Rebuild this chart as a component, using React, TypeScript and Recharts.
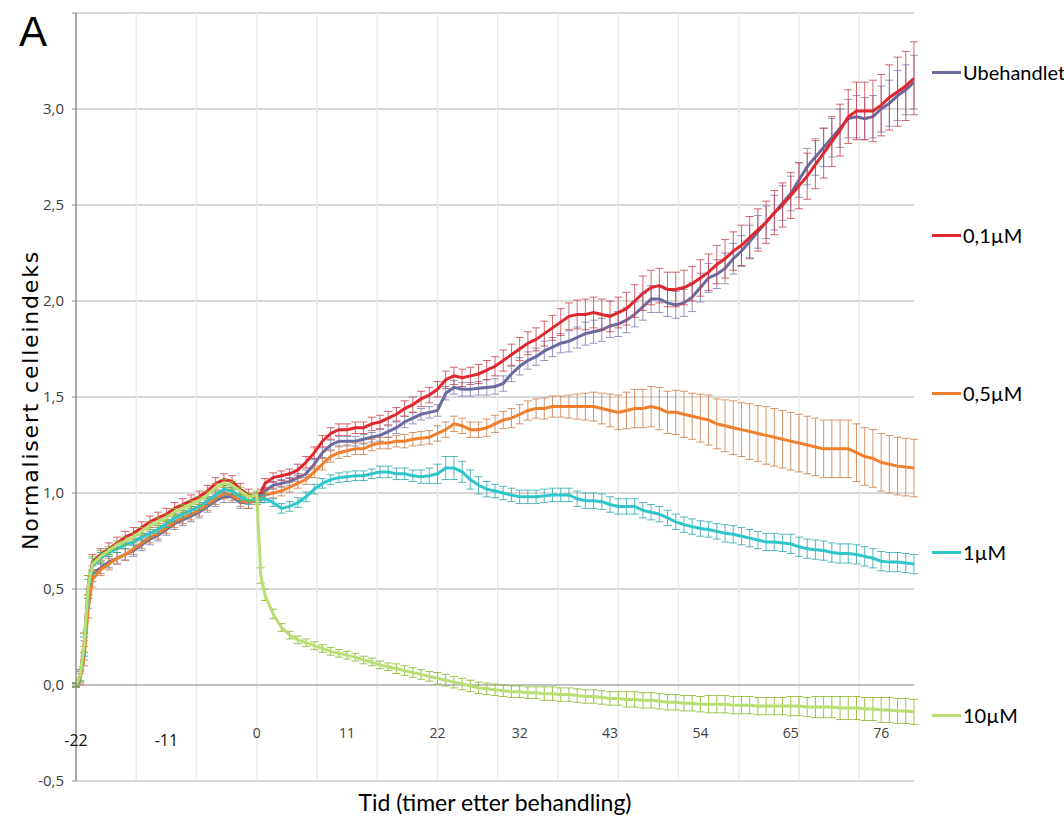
import React from 'react';
import { LineChart, Line, XAxis, YAxis, CartesianGrid, ReferenceLine, ErrorBar } from 'recharts';

// timer etter behandling
const hours = [
  -22, -21.5, -21, -20.5, -20, -19, -18, -17, -16, -15,
  -14, -13, -12, -11, -10, -9, -8, -7, -6, -5,
  -4, -3, -2, -1, 0, 0.5, 1, 2, 3, 4,
  5, 6, 7, 8, 9, 10, 11, 12, 13, 14,
  15, 16, 17, 18, 19, 20, 21, 22, 23, 24,
  25, 26, 27, 28, 29, 30, 31, 32, 33, 34,
  35, 36, 37, 38, 39, 40, 41, 42, 43, 44,
  45, 46, 47, 48, 49, 50, 51, 52, 53, 54,
  55, 56, 57, 58, 59, 60, 61, 62, 63, 64,
  65, 66, 67, 68, 69, 70, 71, 72, 73, 74,
  75, 76, 77, 78, 79, 80,
];

const ubehandlet = [
  0.00, 0.04, 0.18, 0.45, 0.58, 0.61, 0.64, 0.66, 0.68, 0.70,
  0.73, 0.76, 0.78, 0.81, 0.84, 0.86, 0.88, 0.90, 0.93, 0.96,
  0.98, 0.98, 0.95, 0.95, 0.97, 0.98, 1.01, 1.04, 1.05, 1.06,
  1.08, 1.10, 1.15, 1.21, 1.25, 1.27, 1.27, 1.27, 1.28, 1.29,
  1.30, 1.32, 1.34, 1.37, 1.39, 1.41, 1.42, 1.43, 1.52, 1.55,
  1.54, 1.54, 1.545, 1.55, 1.555, 1.57, 1.62, 1.66, 1.69, 1.71,
  1.74, 1.76, 1.78, 1.79, 1.81, 1.83, 1.84, 1.85, 1.87, 1.88,
  1.90, 1.93, 1.97, 2.01, 2.01, 1.99, 1.98, 1.99, 2.02, 2.07,
  2.12, 2.14, 2.17, 2.22, 2.26, 2.31, 2.36, 2.41, 2.46, 2.51,
  2.56, 2.63, 2.70, 2.75, 2.80, 2.85, 2.90, 2.95, 2.96, 2.95,
  2.96, 3.00, 3.03, 3.07, 3.10, 3.14,
];
const ubehandletErr = [
  0.01, 0.03, 0.05, 0.05, 0.04, 0.03, 0.03, 0.03, 0.03, 0.03,
  0.03, 0.03, 0.03, 0.03, 0.03, 0.03, 0.03, 0.03, 0.03, 0.03,
  0.03, 0.03, 0.03, 0.03, 0.02, 0.02, 0.02, 0.02, 0.02, 0.02,
  0.02, 0.02, 0.025, 0.025, 0.025, 0.025, 0.025, 0.025, 0.025, 0.025,
  0.03, 0.03, 0.03, 0.03, 0.03, 0.03, 0.03, 0.03, 0.035, 0.035,
  0.035, 0.035, 0.035, 0.04, 0.04, 0.04, 0.04, 0.045, 0.045, 0.045,
  0.05, 0.05, 0.05, 0.055, 0.055, 0.06, 0.06, 0.06, 0.06, 0.065,
  0.065, 0.065, 0.07, 0.07, 0.07, 0.07, 0.07, 0.07, 0.075, 0.075,
  0.075, 0.075, 0.08, 0.08, 0.08, 0.085, 0.085, 0.085, 0.09, 0.09,
  0.09, 0.09, 0.095, 0.095, 0.1, 0.1, 0.1, 0.1, 0.11, 0.11,
  0.11, 0.12, 0.12, 0.13, 0.13, 0.14,
];

const dose01 = [
  0.00, 0.05, 0.22, 0.52, 0.64, 0.68, 0.71, 0.74, 0.77, 0.79,
  0.82, 0.85, 0.87, 0.89, 0.92, 0.94, 0.96, 0.98, 1.01, 1.05,
  1.07, 1.06, 1.02, 0.99, 0.98, 1.00, 1.05, 1.08, 1.09, 1.10,
  1.12, 1.16, 1.21, 1.27, 1.31, 1.33, 1.33, 1.34, 1.34, 1.36,
  1.37, 1.39, 1.41, 1.44, 1.46, 1.49, 1.51, 1.54, 1.59, 1.61,
  1.60, 1.61, 1.62, 1.64, 1.66, 1.69, 1.72, 1.75, 1.78, 1.80,
  1.83, 1.86, 1.89, 1.92, 1.93, 1.93, 1.94, 1.93, 1.92, 1.94,
  1.96, 2.00, 2.04, 2.07, 2.08, 2.06, 2.06, 2.07, 2.09, 2.12,
  2.15, 2.19, 2.22, 2.26, 2.29, 2.33, 2.37, 2.41, 2.46, 2.50,
  2.55, 2.60, 2.65, 2.71, 2.77, 2.83, 2.89, 2.96, 2.99, 2.99,
  2.99, 3.02, 3.06, 3.09, 3.12, 3.16,
];
const dose01Err = [
  0.01, 0.03, 0.05, 0.05, 0.04, 0.03, 0.03, 0.03, 0.03, 0.03,
  0.03, 0.03, 0.03, 0.03, 0.03, 0.03, 0.03, 0.03, 0.03, 0.03,
  0.03, 0.03, 0.03, 0.03, 0.02, 0.02, 0.025, 0.025, 0.025, 0.025,
  0.03, 0.03, 0.03, 0.03, 0.03, 0.03, 0.03, 0.03, 0.03, 0.035,
  0.035, 0.035, 0.035, 0.04, 0.04, 0.04, 0.04, 0.04, 0.045, 0.045,
  0.045, 0.045, 0.05, 0.05, 0.05, 0.055, 0.055, 0.06, 0.06, 0.06,
  0.065, 0.065, 0.07, 0.07, 0.075, 0.08, 0.08, 0.08, 0.08, 0.08,
  0.085, 0.085, 0.09, 0.09, 0.09, 0.09, 0.09, 0.09, 0.09, 0.095,
  0.095, 0.1, 0.1, 0.1, 0.105, 0.11, 0.11, 0.11, 0.115, 0.115,
  0.12, 0.12, 0.12, 0.125, 0.13, 0.13, 0.135, 0.14, 0.15, 0.15,
  0.16, 0.16, 0.17, 0.18, 0.18, 0.19,
];

const dose05 = [
  0.00, 0.03, 0.15, 0.40, 0.55, 0.60, 0.63, 0.66, 0.68, 0.71,
  0.74, 0.77, 0.79, 0.82, 0.85, 0.87, 0.89, 0.91, 0.94, 0.97,
  1.00, 0.99, 0.96, 0.95, 0.96, 0.97, 0.99, 1.00, 1.01, 1.03,
  1.05, 1.07, 1.11, 1.15, 1.19, 1.21, 1.22, 1.23, 1.23, 1.25,
  1.26, 1.26, 1.27, 1.27, 1.28, 1.285, 1.29, 1.31, 1.33, 1.36,
  1.35, 1.33, 1.33, 1.34, 1.36, 1.38, 1.39, 1.41, 1.43, 1.44,
  1.44, 1.45, 1.45, 1.45, 1.45, 1.45, 1.45, 1.44, 1.43, 1.42,
  1.43, 1.44, 1.44, 1.45, 1.44, 1.42, 1.42, 1.41, 1.40, 1.39,
  1.38, 1.36, 1.35, 1.34, 1.33, 1.32, 1.31, 1.30, 1.29, 1.28,
  1.27, 1.26, 1.25, 1.24, 1.23, 1.23, 1.23, 1.23, 1.21, 1.19,
  1.18, 1.16, 1.15, 1.14, 1.135, 1.13,
];
const dose05Err = [
  0.01, 0.03, 0.05, 0.05, 0.04, 0.03, 0.03, 0.03, 0.03, 0.03,
  0.03, 0.03, 0.03, 0.03, 0.03, 0.03, 0.03, 0.03, 0.03, 0.03,
  0.03, 0.03, 0.03, 0.03, 0.02, 0.02, 0.02, 0.025, 0.025, 0.025,
  0.025, 0.025, 0.03, 0.03, 0.03, 0.03, 0.03, 0.03, 0.03, 0.03,
  0.03, 0.03, 0.03, 0.035, 0.035, 0.035, 0.035, 0.04, 0.04, 0.04,
  0.04, 0.04, 0.04, 0.045, 0.045, 0.045, 0.05, 0.05, 0.05, 0.05,
  0.055, 0.055, 0.055, 0.06, 0.065, 0.07, 0.075, 0.08, 0.085, 0.09,
  0.095, 0.1, 0.1, 0.105, 0.11, 0.11, 0.115, 0.12, 0.12, 0.125,
  0.13, 0.13, 0.135, 0.14, 0.14, 0.145, 0.145, 0.15, 0.15, 0.15,
  0.15, 0.15, 0.15, 0.15, 0.15, 0.15, 0.15, 0.15, 0.15, 0.15,
  0.15, 0.15, 0.15, 0.15, 0.15, 0.15,
];

const dose1 = [
  0.00, 0.05, 0.20, 0.50, 0.62, 0.66, 0.69, 0.71, 0.73, 0.745,
  0.77, 0.79, 0.81, 0.84, 0.87, 0.89, 0.91, 0.93, 0.96, 0.99,
  1.02, 1.01, 0.98, 0.96, 0.97, 0.97, 0.97, 0.95, 0.92, 0.93,
  0.95, 0.98, 1.02, 1.05, 1.07, 1.08, 1.085, 1.09, 1.09, 1.10,
  1.11, 1.11, 1.10, 1.10, 1.09, 1.085, 1.09, 1.10, 1.13, 1.13,
  1.11, 1.07, 1.04, 1.02, 1.01, 1.00, 0.99, 0.98, 0.98, 0.98,
  0.985, 0.99, 0.99, 0.99, 0.97, 0.96, 0.96, 0.955, 0.94, 0.93,
  0.93, 0.93, 0.91, 0.90, 0.89, 0.87, 0.85, 0.835, 0.825, 0.815,
  0.81, 0.80, 0.79, 0.785, 0.775, 0.765, 0.755, 0.745, 0.745, 0.74,
  0.735, 0.72, 0.71, 0.705, 0.70, 0.69, 0.685, 0.685, 0.68, 0.67,
  0.66, 0.645, 0.64, 0.64, 0.635, 0.63,
];
const dose1Err = [
  0.01, 0.03, 0.05, 0.05, 0.04, 0.03, 0.02, 0.02, 0.02, 0.02,
  0.02, 0.02, 0.02, 0.02, 0.02, 0.02, 0.02, 0.02, 0.02, 0.02,
  0.02, 0.02, 0.02, 0.02, 0.02, 0.02, 0.02, 0.02, 0.025, 0.025,
  0.025, 0.025, 0.025, 0.025, 0.025, 0.025, 0.025, 0.025, 0.025, 0.025,
  0.03, 0.03, 0.03, 0.03, 0.03, 0.035, 0.04, 0.05, 0.06, 0.06,
  0.055, 0.05, 0.045, 0.04, 0.035, 0.035, 0.035, 0.035, 0.035, 0.035,
  0.035, 0.035, 0.035, 0.035, 0.04, 0.04, 0.04, 0.04, 0.04, 0.04,
  0.04, 0.04, 0.04, 0.04, 0.04, 0.04, 0.04, 0.04, 0.04, 0.04,
  0.04, 0.04, 0.045, 0.045, 0.045, 0.045, 0.045, 0.045, 0.045, 0.045,
  0.05, 0.05, 0.05, 0.05, 0.05, 0.05, 0.05, 0.05, 0.05, 0.05,
  0.05, 0.05, 0.05, 0.05, 0.05, 0.05,
];

const dose10 = [
  0.00, 0.05, 0.22, 0.52, 0.63, 0.67, 0.70, 0.73, 0.75, 0.77,
  0.80, 0.83, 0.85, 0.87, 0.90, 0.92, 0.94, 0.96, 0.99, 1.03,
  1.05, 1.04, 1.01, 0.98, 0.99, 0.57, 0.47, 0.37, 0.30, 0.26,
  0.235, 0.22, 0.205, 0.19, 0.175, 0.165, 0.155, 0.145, 0.13, 0.12,
  0.105, 0.095, 0.085, 0.075, 0.065, 0.055, 0.045, 0.035, 0.025, 0.015,
  0.005, -0.005, -0.015, -0.02, -0.025, -0.03, -0.035, -0.035, -0.04, -0.04,
  -0.045, -0.045, -0.05, -0.05, -0.055, -0.06, -0.06, -0.065, -0.07, -0.07,
  -0.075, -0.075, -0.08, -0.08, -0.085, -0.09, -0.09, -0.095, -0.095, -0.10,
  -0.10, -0.10, -0.10, -0.105, -0.105, -0.105, -0.11, -0.11, -0.11, -0.11,
  -0.11, -0.11, -0.115, -0.115, -0.115, -0.115, -0.12, -0.12, -0.12, -0.125,
  -0.125, -0.13, -0.13, -0.135, -0.135, -0.14,
];
const dose10Err = [
  0.01, 0.03, 0.05, 0.05, 0.04, 0.03, 0.02, 0.02, 0.02, 0.02,
  0.02, 0.02, 0.02, 0.02, 0.02, 0.02, 0.02, 0.02, 0.02, 0.02,
  0.02, 0.02, 0.02, 0.02, 0.02, 0.04, 0.03, 0.025, 0.02, 0.02,
  0.02, 0.02, 0.02, 0.02, 0.02, 0.02, 0.02, 0.02, 0.02, 0.02,
  0.02, 0.02, 0.025, 0.025, 0.025, 0.025, 0.025, 0.03, 0.03, 0.03,
  0.03, 0.03, 0.03, 0.03, 0.03, 0.03, 0.03, 0.03, 0.03, 0.03,
  0.035, 0.035, 0.035, 0.035, 0.035, 0.035, 0.035, 0.035, 0.035, 0.035,
  0.04, 0.04, 0.04, 0.04, 0.04, 0.04, 0.04, 0.04, 0.04, 0.04,
  0.045, 0.045, 0.045, 0.045, 0.045, 0.045, 0.045, 0.045, 0.045, 0.045,
  0.05, 0.05, 0.05, 0.055, 0.055, 0.055, 0.06, 0.06, 0.06, 0.06,
  0.06, 0.065, 0.065, 0.065, 0.065, 0.065,
];

const xTicks = [-22, -11, 0, 11, 22, 32, 43, 54, 65, 76];
const xGrid = [-14.67, -7.33, 0, 7.33, 14.67, 22, 29.33, 36.67, 44, 51.33, 58.67, 66, 73.33];
const yTicks = [-0.5, 0, 0.5, 1, 1.5, 2, 2.5, 3, 3.5];

const series = [
  { key: 'ubehandlet', name: 'Ubehandlet', color: '#6A6AA0', errColor: '#7C7CB0', values: ubehandlet, errors: ubehandletErr },
  { key: 'dose01', name: '0,1µM', color: '#E0262E', errColor: '#C8404A', values: dose01, errors: dose01Err },
  { key: 'dose05', name: '0,5µM', color: '#F07F2E', errColor: '#C97A45', values: dose05, errors: dose05Err },
  { key: 'dose1', name: '1µM', color: '#2EC6C8', errColor: '#2AA6A8', values: dose1, errors: dose1Err },
  { key: 'dose10', name: '10µM', color: '#B8DE74', errColor: '#86B520', values: dose10, errors: dose10Err },
];

const legendTops = [72, 235, 393, 552, 715];

const data = hours.map((h, i) => {
  const row: Record<string, number> = { h };
  series.forEach(s => {
    row[s.key] = s.values[i];
    row[s.key + 'Err'] = s.errors[i];
  });
  return row;
});

const fmtY = (v: number) => (v === 3.5 ? '' : v.toFixed(1).replace('.', ','));

const tickFont = "'Open Sans', Lato, sans-serif";

// tick labels sit between the zero line and the bottom gridline
const XTick = (props: any) => {
  const { x, y, payload } = props;
  const neg = payload.value < 0;
  return (
    <text
      x={x}
      y={y - (neg ? 41 : 49)}
      textAnchor="middle"
      dominantBaseline="central"
      fontFamily={tickFont}
      fontSize={neg ? 16 : 14}
      fill={neg ? '#111' : '#404040'}
    >
      {payload.value}
    </text>
  );
};

export default function App() {
  return (
    <div style={{ position: 'absolute', left: 0, top: 0, width: 1064, height: 818, background: '#fff' }}>
      <LineChart
        width={1064}
        height={818}
        data={data}
        margin={{ top: 13, right: 150, bottom: 7, left: 16 }}
      >
        <CartesianGrid vertical={false} stroke="#D9D9D9" strokeWidth={2} />
        {xGrid.map(v => (
          <ReferenceLine key={v} x={v} stroke="#EBEBEB" strokeWidth={1.5} />
        ))}
        <ReferenceLine y={0} stroke="#BFBFBF" strokeWidth={2} />
        <XAxis
          dataKey="h"
          type="number"
          domain={[-22, 80]}
          ticks={xTicks}
          interval={0}
          axisLine={false}
          tickLine={false}
          tickSize={0}
          tickMargin={0}
          height={30}
          tick={<XTick />}
          allowDataOverflow
        />
        <YAxis
          type="number"
          domain={[-0.5, 3.5]}
          ticks={yTicks}
          interval={0}
          width={60}
          tickFormatter={fmtY}
          axisLine={{ stroke: '#8C8C8C', strokeWidth: 1.5 }}
          tickLine={{ stroke: '#8C8C8C' }}
          tickSize={4}
          tickMargin={8}
          tick={{ fontFamily: tickFont, fontSize: 15, fill: '#404040' }}
        />
        {series.map(s => (
          <Line
            key={s.key}
            type="linear"
            dataKey={s.key}
            name={s.name}
            stroke={s.color}
            strokeWidth={3}
            dot={false}
            isAnimationActive={false}
          >
            <ErrorBar dataKey={s.key + 'Err'} width={4} stroke={s.errColor} strokeWidth={1} strokeOpacity={0.8} direction="y" />
          </Line>
        ))}
      </LineChart>

      <div style={{ position: 'absolute', left: 19, top: 8, fontFamily: "'Liberation Sans', Arial, sans-serif", fontSize: 42, color: '#000' }}>
        A
      </div>
      <div
        style={{
          position: 'absolute',
          left: 30,
          top: 400,
          transform: 'translate(-50%, -50%) rotate(-90deg)',
          whiteSpace: 'nowrap',
          fontFamily: "'DejaVu Sans', sans-serif",
          fontSize: 22,
          letterSpacing: 1.8,
          color: '#000',
        }}
      >
        Normalisert celleindeks
      </div>
      <div
        style={{
          position: 'absolute',
          left: 495,
          top: 802,
          transform: 'translate(-50%, -50%)',
          whiteSpace: 'nowrap',
          fontFamily: "Lato, 'Open Sans', sans-serif",
          fontSize: 23,
          color: '#000',
        }}
      >
        Tid (timer etter behandling)
      </div>
      {series.map((s, i) => (
        <div
          key={s.key}
          style={{
            position: 'absolute',
            left: 932,
            top: legendTops[i],
            transform: 'translateY(-50%)',
            display: 'flex',
            alignItems: 'center',
            whiteSpace: 'nowrap',
            fontFamily: "Lato, 'Open Sans', sans-serif",
            fontSize: 20,
            color: '#000',
          }}
        >
          <span style={{ display: 'inline-block', width: 29, height: 3, background: s.color, marginRight: 2 }} />
          {s.name}
        </div>
      ))}
    </div>
  );
}
